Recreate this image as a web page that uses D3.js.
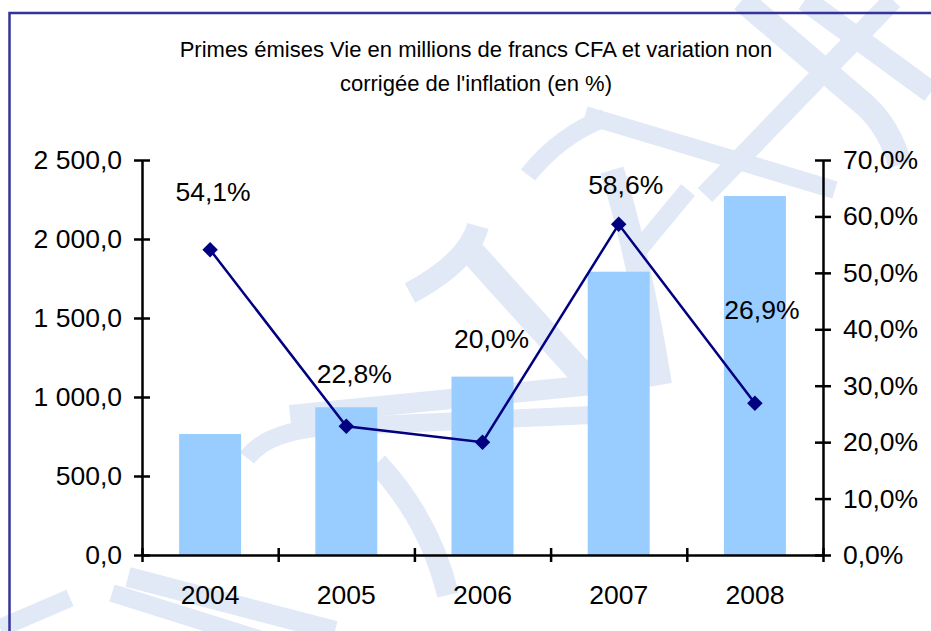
<!DOCTYPE html>
<html>
<head>
<meta charset="utf-8">
<script src="https://cdn.jsdelivr.net/npm/d3@7"></script>
<style>
  html, body { margin: 0; padding: 0; background: #ffffff; }
  svg { display: block; }
  text { font-family: "Liberation Sans", Arial, Helvetica, sans-serif; fill: #000; }
</style>
</head>
<body>
<svg id="chart" width="931" height="631"></svg>
<script>
// Années, primes émises Vie (millions de francs CFA) et variation annuelle (%)
const years = ["2004", "2005", "2006", "2007", "2008"];
const primes = [766, 935, 1129, 1793, 2272];
const variation = [54.1, 22.8, 20.0, 58.6, 26.9];
const leftTicks = [0, 500, 1000, 1500, 2000, 2500];
const rightTicks = [0, 10, 20, 30, 40, 50, 60, 70];
const titleLines = [
  "Primes émises Vie en millions de francs CFA et variation non",
  "corrigée de l'inflation (en %)"
];

// Décalage manuel de chaque étiquette de pourcentage par rapport à son point
const labelOffsets = [[3, -58], [8, -53], [9, -103], [7, -40], [7, -93]];

const fr = d3.formatLocale({ decimal: ",", thousands: " ", grouping: [3], currency: ["", " F"] });
const fmtAmount = fr.format(",.1f");
const fmtPct = d => fr.format(".1f")(d) + "%";

const svg = d3.select("#chart");
const W = 931, H = 631;
const plot = { left: 142, right: 823, top: 160, bottom: 555 };

svg.append("rect").attr("width", W).attr("height", H).attr("fill", "#ffffff");

// Filigrane décoratif en arrière-plan
const wm = svg.append("g").attr("fill", "none").attr("stroke", "#e1e9f7").attr("stroke-linecap", "butt");
const bands = [
  ["M742,0 L865,105 Q890,128 900,165", 24],
  ["M805,0 L931,92", 22],
  ["M893,0 L705,195", 20],
  ["M585,115 Q700,150 835,190", 18],
  ["M528,175 Q560,135 605,118", 18],
  ["M410,293 Q468,262 478,226", 22],
  ["M470,250 L592,385", 26],
  ["M612,170 Q640,260 660,385", 24],
  ["M688,190 L640,248", 18],
  ["M290,415 L592,385", 20],
  ["M247,458 Q268,430 330,427 L592,415", 18],
  ["M377,463 Q430,520 448,595", 22],
  ["M128,577 L335,631", 20],
  ["M112,593 L262,640", 18],
  ["M0,628 L70,598", 18]
];
bands.forEach(([d, w]) => wm.append("path").attr("d", d).attr("stroke-width", w));

// Échelles
const x = d3.scaleBand().domain(years).range([plot.left, plot.right])
  .paddingInner(0.545).paddingOuter(0.2725);
const yL = d3.scaleLinear().domain([0, 2500]).range([plot.bottom, plot.top]);
const yR = d3.scaleLinear().domain([0, 70]).range([plot.bottom, plot.top]);
const cx = d => x(d) + x.bandwidth() / 2;

// Barres : primes émises
svg.append("g").selectAll("rect").data(years).join("rect")
  .attr("x", d => x(d))
  .attr("width", x.bandwidth())
  .attr("y", (d, i) => yL(primes[i]))
  .attr("height", (d, i) => yL(0) - yL(primes[i]))
  .attr("fill", "#99ccff");

const FS = 26.5;

// Axe gauche
const axL = svg.append("g").attr("transform", `translate(${plot.left},0)`)
  .call(d3.axisLeft(yL).tickValues(leftTicks).tickFormat(fmtAmount)
    .tickSizeInner(8).tickSizeOuter(0).tickPadding(12));
axL.selectAll(".tick line").attr("x1", 8);
// Axe droit
const axR = svg.append("g").attr("transform", `translate(${plot.right},0)`)
  .call(d3.axisRight(yR).tickValues(rightTicks).tickFormat(fmtPct)
    .tickSizeInner(8).tickSizeOuter(0).tickPadding(12));
axR.selectAll(".tick line").attr("x1", -8);
// Axe des catégories : libellés centrés, graduations aux limites
const axB = svg.append("g").attr("transform", `translate(0,${plot.bottom})`)
  .call(d3.axisBottom(x).tickSize(0).tickPadding(30));
axB.select(".domain").remove();
const bounds = d3.scaleLinear().domain([0, years.length]).range([plot.left, plot.right]);
const axT = svg.append("g").attr("transform", `translate(0,${plot.bottom})`)
  .call(d3.axisBottom(bounds).tickValues(d3.range(years.length + 1)).tickFormat("")
    .tickSizeInner(7).tickSizeOuter(0));
axT.selectAll(".tick line").attr("y1", -7);

svg.selectAll(".domain, .tick line").attr("stroke", "#000").attr("stroke-width", 2.5);
svg.selectAll(".tick text").attr("font-size", FS).attr("fill", "#000")
  .attr("font-family", "Liberation Sans, Arial, sans-serif");

// Courbe : variation en %
const pts = years.map((d, i) => [cx(d), yR(variation[i])]);
svg.append("path").datum(pts)
  .attr("d", d3.line())
  .attr("fill", "none").attr("stroke", "#000080").attr("stroke-width", 2.5);
svg.append("g").selectAll("path").data(pts).join("path")
  .attr("transform", p => `translate(${p[0]},${p[1]}) rotate(45)`)
  .attr("d", d3.symbol().type(d3.symbolSquare).size(120))
  .attr("fill", "#000080");

// Étiquettes de valeurs
svg.append("g").selectAll("text").data(years).join("text")
  .attr("x", (d, i) => pts[i][0] + labelOffsets[i][0])
  .attr("y", (d, i) => pts[i][1] + labelOffsets[i][1])
  .attr("dy", "0.35em")
  .attr("text-anchor", "middle")
  .attr("font-size", FS)
  .text((d, i) => fmtPct(variation[i]));

// Titre
svg.append("g").selectAll("text").data(titleLines).join("text")
  .attr("x", 476)
  .attr("y", (d, i) => 57 + i * 34)
  .attr("text-anchor", "middle")
  .attr("font-size", 22)
  .text(d => d);

// Cadre
svg.append("rect")
  .attr("x", 9.5).attr("y", 13).attr("width", 960).attr("height", 660)
  .attr("fill", "none").attr("stroke", "#333399").attr("stroke-width", 2.5);
</script>
</body>
</html>
